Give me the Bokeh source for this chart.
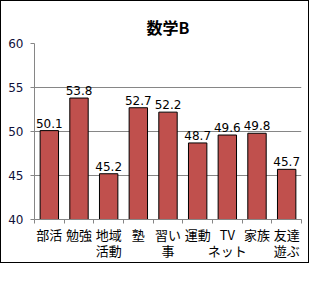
from bokeh.plotting import figure
from bokeh.models import FixedTicker, Range1d, ColumnDataSource
from bokeh.embed import file_html
from bokeh.resources import INLINE
from bokeh.core.properties import value

title_text = "数学B"
categories = ["部活", "勉強", "地域\n活動", "塾", "習い\n事", "運動", "TV\nネット", "家族", "友達\n遊ぶ"]
scores = [50.1, 53.8, 45.2, 52.7, 52.2, 48.7, 49.6, 49.8, 45.7]
y_ticks = [40, 45, 50, 55, 60]

n = len(categories)
xs = [i + 0.5 for i in range(n)]
src = ColumnDataSource(dict(x=xs, top=scores, lab=[f"{v:.1f}" for v in scores]))

p = figure(frame_width=267, frame_height=176, output_backend="svg", toolbar_location=None,
           x_range=Range1d(0, n), y_range=Range1d(40, 60),
           min_border_left=33, min_border_right=7, min_border_top=42, min_border_bottom=10)
p.styles = {"border": "1px solid black"}

p.title.text = title_text
p.title.align = "center"
p.title.text_font = "Noto Sans CJK JP"
p.title.text_font_size = "16px"
p.title.text_font_style = "bold"
p.title.text_color = "black"
p.title.offset = -14
p.title.standoff = 10

p.vbar(x="x", top="top", bottom=40, width=0.62, source=src,
       fill_color="#C0504D", line_color="black", line_width=1)
p.text(x="x", y="top", text="lab", source=src, text_align="center", text_baseline="bottom",
       y_offset=-3, text_font=value("DejaVu Sans"), text_font_size="12px", text_color="black")

p.outline_line_color = None
p.background_fill_color = "white"
p.border_fill_color = "white"
p.xgrid.grid_line_color = None
p.ygrid.grid_line_color = "#868686"
p.ygrid.ticker = FixedTicker(ticks=y_ticks)

p.yaxis.ticker = FixedTicker(ticks=y_ticks)
p.yaxis.axis_line_color = "#868686"
p.yaxis.major_tick_line_color = "#868686"
p.yaxis.major_tick_in = 0
p.yaxis.major_tick_out = 4
p.yaxis.minor_tick_line_color = None
p.yaxis.major_label_standoff = 7
p.yaxis.major_label_text_font = "DejaVu Sans"
p.yaxis.major_label_text_font_size = "12px"
p.yaxis.major_label_text_color = "#10103a"

p.xaxis.ticker = FixedTicker(ticks=xs, minor_ticks=list(range(n + 1)))
p.xaxis.major_label_overrides = {x: c for x, c in zip(xs, categories)}
p.xaxis.axis_line_color = "#868686"
p.xaxis.major_tick_line_color = None
p.xaxis.minor_tick_line_color = "#868686"
p.xaxis.minor_tick_in = 0
p.xaxis.minor_tick_out = 4
p.xaxis.major_label_standoff = -1
p.xaxis.major_label_text_font = "Noto Sans CJK JP"
p.xaxis.major_label_text_font_size = "13px"
p.xaxis.major_label_text_color = "black"
p.xaxis.major_label_text_line_height = 0.85

open("out.html", "w").write(file_html(p, INLINE))
